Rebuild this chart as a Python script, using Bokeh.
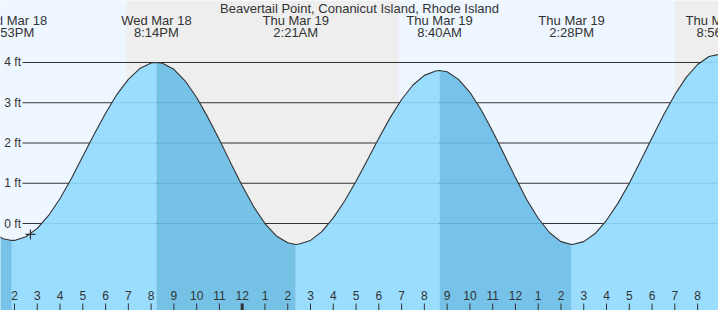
from bokeh.plotting import figure
from bokeh.models import Range1d
from bokeh.core.properties import value
from bokeh.embed import file_html
from bokeh.resources import INLINE

title_text = "Beavertail Point, Conanicut Island, Rhode Island"

# tide extremes, hours since Wed Mar 18 00:00
event_hours = [13.883, 20.233, 26.35, 32.667, 38.467, 44.933]
event_heights = [-0.42, 4.00, -0.52, 3.80, -0.52, 4.20]
event_day = ["Wed Mar 18", "Wed Mar 18", "Thu Mar 19", "Thu Mar 19", "Thu Mar 19", "Thu Mar 19"]
event_time = ["1:53PM", "8:14PM", "2:21AM", "8:40AM", "2:28PM", "8:56PM"]

# tide curve (hours, feet)
curve_hours = [13.0, 13.5, 13.883, 14.0, 14.5, 15.0, 15.5, 16.0, 16.5, 17.0, 17.5, 18.0, 18.5,
               19.0, 19.5, 20.0, 20.233, 20.5, 21.0, 21.5, 22.0, 22.5, 23.0, 23.5, 24.0, 24.5,
               25.0, 25.5, 26.0, 26.35, 26.5, 27.0, 27.5, 28.0, 28.5, 29.0, 29.5, 30.0, 30.5,
               31.0, 31.5, 32.0, 32.5, 32.667, 33.0, 33.5, 34.0, 34.5, 35.0, 35.5, 36.0, 36.5,
               37.0, 37.5, 38.0, 38.467, 38.5, 39.0, 39.5, 40.0, 40.5, 41.0, 41.5, 42.0, 42.5,
               43.0, 43.5, 44.0, 44.5, 44.933]
curve_heights = [-0.21, -0.38, -0.42, -0.42, -0.33, -0.12, 0.20, 0.62, 1.12, 1.67, 2.22, 2.74, 3.21,
                 3.58, 3.85, 3.99, 4.00, 3.98, 3.83, 3.54, 3.13, 2.63, 2.08, 1.50, 0.94, 0.42,
                 0.00, -0.31, -0.48, -0.52, -0.51, -0.42, -0.20, 0.14, 0.56, 1.05, 1.58, 2.12, 2.63,
                 3.08, 3.44, 3.68, 3.79, 3.80, 3.77, 3.58, 3.26, 2.82, 2.29, 1.72, 1.14, 0.59,
                 0.13, -0.23, -0.45, -0.52, -0.52, -0.45, -0.25, 0.08, 0.50, 1.00, 1.56, 2.13, 2.69,
                 3.20, 3.63, 3.95, 4.15, 4.20]

# night (sunset -> sunrise)
night_start = [18.92, 42.99]
night_end = [30.86, 54.84]

# current time marker
now_hour = 14.70
now_height = -0.27

# y gridlines
grid_ft = [0, 1, 2, 3, 4]
grid_labels = ["0 ft", "1 ft", "2 ft", "3 ft", "4 ft"]

# hour ticks
tick_hours = list(range(14, 45))
tick_labels = ["2", "3", "4", "5", "6", "7", "8", "9", "10", "11", "12", "1", "2", "3", "4", "5",
               "6", "7", "8", "9", "10", "11", "12", "1", "2", "3", "4", "5", "6", "7", "8"]
midnight_hours = [24]

W, H = 718, 310
X0, X1 = 13.3852, 44.918
Y0, Y1 = -2.161, 5.540


def px_x(px):
    return X0 + px / W * (X1 - X0)


def px_y(py):
    return Y1 - py / H * (Y1 - Y0)


FONT = value("Liberation Sans")
TXT = "#333333"

p = figure(width=W, height=H, x_range=Range1d(X0, X1), y_range=Range1d(Y0, Y1),
           toolbar_location=None, output_backend="svg", min_border=0,
           x_axis_location=None, y_axis_location=None)
p.grid.visible = False
p.outline_line_color = None
p.background_fill_color = "#EEF6FF"
p.border_fill_color = "#EEF6FF"

# night bands
p.quad(left=night_start, right=night_end, bottom=Y0, top=Y1, fill_color="#EEEEEE", line_color=None)

# grid lines
p.segment(x0=[px_x(22)] * len(grid_ft), x1=[X1] * len(grid_ft), y0=grid_ft, y1=grid_ft,
          line_color="#333333", line_width=1)

# fill under the curve, split at tide extremes (rising light, falling dark)
cuts = [0] + [curve_hours.index(h) for h in event_hours] + [len(curve_hours) - 1]
cuts = sorted(set(cuts))
for a, b in zip(cuts[:-1], cuts[1:]):
    xs = curve_hours[a:b + 1]
    ys = curve_heights[a:b + 1]
    rising = ys[-1] > ys[0]
    p.varea(x=xs, y1=[Y0] * len(xs), y2=ys,
            fill_color="#90DAFF" if rising else "#68BDE6", fill_alpha=0.9)

# tide curve
p.line(curve_hours, curve_heights, line_color="#333333", line_width=1.1)

# current time
p.scatter(x=[now_hour], y=[now_height], marker="cross", size=10, line_color="#333333", line_width=1.2)

# y labels
p.text(x=[px_x(20.5)] * len(grid_ft), y=grid_ft, text=grid_labels, text_align="right",
       text_baseline="middle", text_font=FONT, text_font_size="12px", text_color=TXT)

# hour ticks
p.segment(x0=tick_hours, x1=tick_hours, y0=[px_y(303)] * len(tick_hours), y1=[Y0] * len(tick_hours),
          line_color="#333333", line_width=1)
p.segment(x0=midnight_hours, x1=midnight_hours, y0=[px_y(303)], y1=[Y0],
          line_color="#333333", line_width=3)
p.text(x=tick_hours, y=[px_y(295)] * len(tick_hours), text=tick_labels, text_align="center",
       text_baseline="middle", text_font=FONT, text_font_size="12px", text_color=TXT)

# event labels
p.text(x=event_hours, y=[px_y(20)] * len(event_hours), text=event_day, text_align="center",
       text_baseline="middle", text_font=FONT, text_font_size="13px", text_color=TXT)
p.text(x=event_hours, y=[px_y(32)] * len(event_hours), text=event_time, text_align="center",
       text_baseline="middle", text_font=FONT, text_font_size="13px", text_color=TXT)

# title
p.text(x=[px_x(359)], y=[px_y(8)], text=[title_text], text_align="center",
       text_baseline="middle", text_font=FONT, text_font_size="13px", text_color=TXT)

open("out.html", "w").write(file_html(p, INLINE))
